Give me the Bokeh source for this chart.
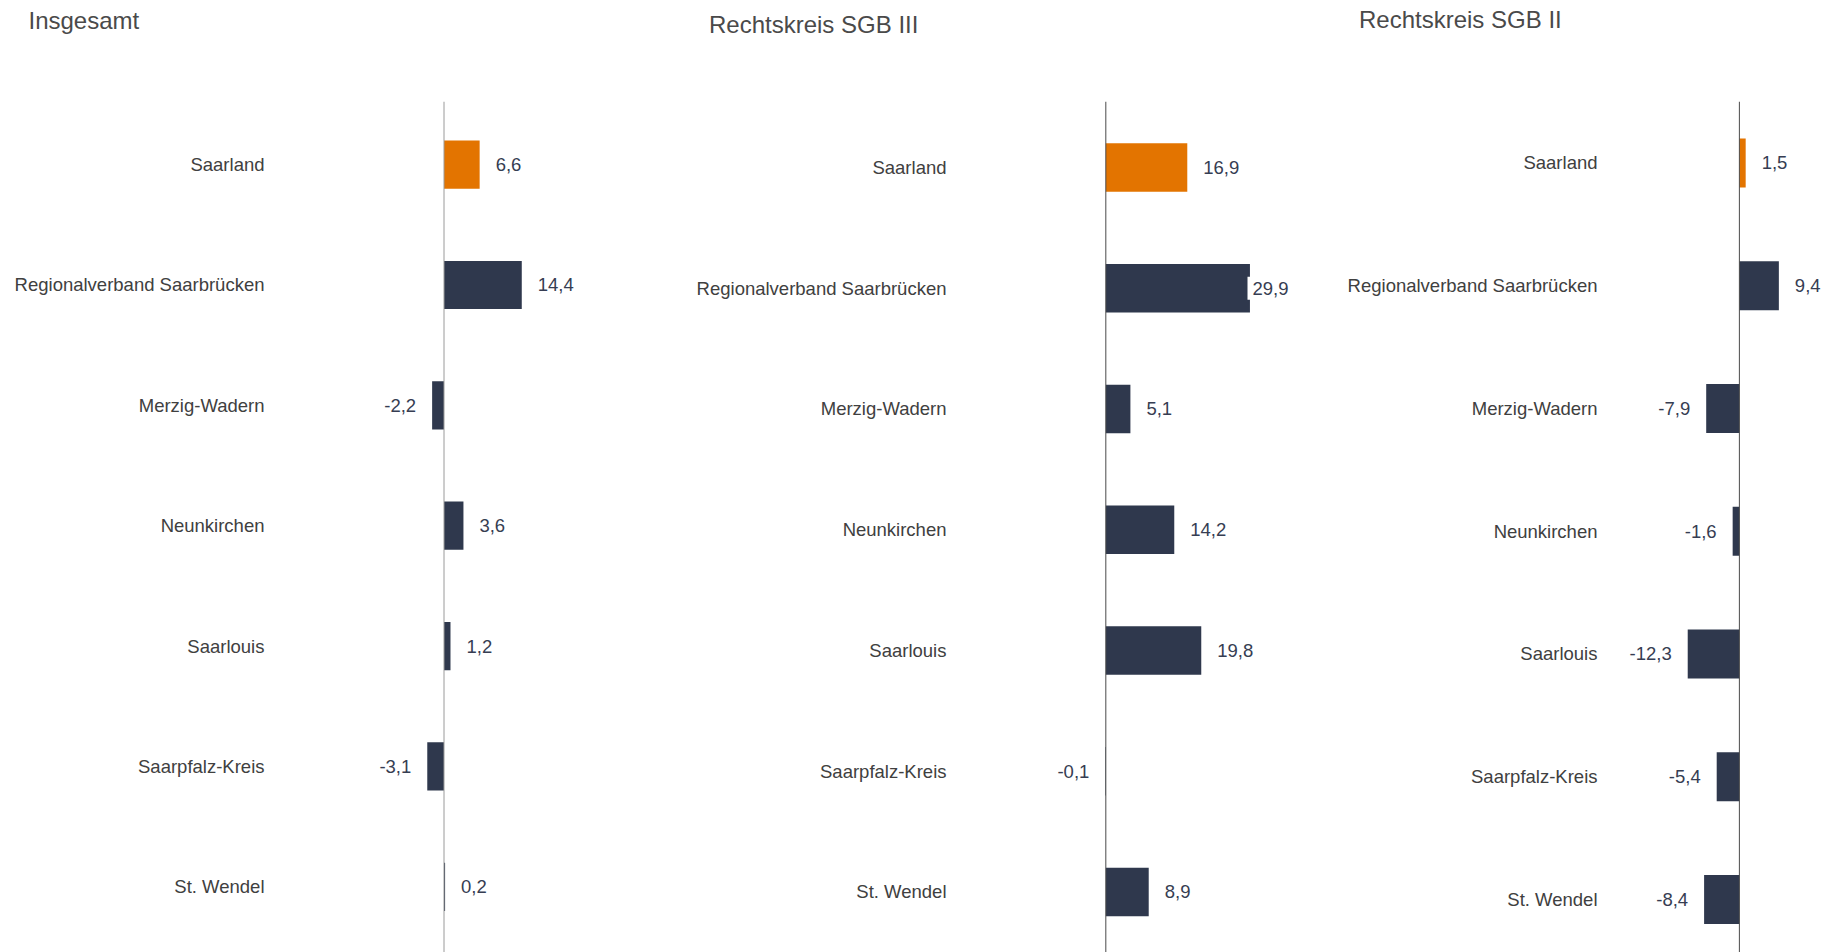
from bokeh.plotting import figure
from bokeh.layouts import row, column
from bokeh.models import Range1d, FixedTicker, Span, Label, ColumnDataSource
from bokeh.core.properties import value
from bokeh.embed import file_html
from bokeh.resources import INLINE

# ---------------- data ----------------
categories = ["Saarland", "Regionalverband Saarbrücken", "Merzig-Wadern",
              "Neunkirchen", "Saarlouis", "Saarpfalz-Kreis", "St. Wendel"]
titles = ["Insgesamt", "Rechtskreis SGB III", "Rechtskreis SGB II"]
insgesamt = [6.6, 14.4, -2.2, 3.6, 1.2, -3.1, 0.2]
sgb3 = [16.9, 29.9, 5.1, 14.2, 19.8, -0.1, 8.9]
sgb2 = [1.5, 9.4, -7.9, -1.6, -12.3, -5.4, -8.4]
series = [insgesamt, sgb3, sgb2]

ORANGE = "#E37400"
NAVY = "#2F384D"
FONT = "Liberation Sans"
LABEL_SIZE = 18.5
PAD = 5          # padding of the value-label background box
GAP = 16         # gap between bar end and value text

# ---------------- layout (pixels) ----------------
PAGE_H = 952
STRIP_H = 50                 # title strip on top
FRAME_TOP = 101              # common frame top (page px)
FRAME_BOTTOM = 952
CHART_H = PAGE_H - STRIP_H
panels = [
    dict(width=690, mbl=274, mbr=0, band_top=103.9, band=120.37, ppu=5.40,
         x0=-31.39, zero_color="#9a9a9a", tx=28, tb=20.3),
    dict(width=651, mbl=266, mbr=49, band_top=106.6, band=120.75, ppu=4.82,
         x0=-30.98, zero_color="#4a4a4a", tx=708.5, tb=24.3),
    dict(width=490, mbl=266, mbr=0, band_top=101.1, band=122.75, ppu=4.20,
         x0=-31.4, zero_color="#4a4a4a", tx=1358.5, tb=18.7),
]


def fmt(v):
    return f"{v:.1f}".replace(".", ",")


def text_w(s):
    w = {",": 0.278, "-": 0.333}
    return sum(w.get(c, 0.556) for c in s) * LABEL_SIZE


# ---------------- title strip ----------------
strip = figure(width=sum(c["width"] for c in panels), height=STRIP_H,
               output_backend="svg", toolbar_location=None,
               x_axis_location=None, y_axis_location=None,
               x_range=Range1d(0, 1), y_range=Range1d(0, 1),
               min_border_left=0, min_border_right=0,
               min_border_top=0, min_border_bottom=0)
strip.outline_line_color = None
strip.grid.visible = False
for title, cfg in zip(titles, panels):
    strip.add_layout(Label(x=cfg["tx"], y=STRIP_H - cfg["tb"],
                           x_units="screen", y_units="screen",
                           text=title, text_font=FONT, text_font_size="24px",
                           text_color="#4a4a4a", text_align="left",
                           text_baseline="alphabetic"))

# ---------------- charts ----------------
figs = []
for vals, cfg in zip(series, panels):
    frame_w = cfg["width"] - cfg["mbl"] - cfg["mbr"]
    x1 = cfg["x0"] + frame_w / cfg["ppu"]
    y_top = -0.5 - (cfg["band_top"] - FRAME_TOP) / cfg["band"]
    y_bottom = -0.5 + (FRAME_BOTTOM - cfg["band_top"]) / cfg["band"]

    p = figure(width=cfg["width"], height=CHART_H, output_backend="svg",
               toolbar_location=None, x_axis_location=None,
               x_range=Range1d(cfg["x0"], x1), y_range=Range1d(y_bottom, y_top),
               min_border_left=cfg["mbl"], min_border_right=cfg["mbr"],
               min_border_top=FRAME_TOP - STRIP_H,
               min_border_bottom=PAGE_H - FRAME_BOTTOM)
    p.outline_line_color = None
    p.grid.visible = False
    p.background_fill_color = "white"
    p.border_fill_color = "white"

    idx = list(range(len(categories)))
    colors = [ORANGE] + [NAVY] * (len(categories) - 1)
    src = ColumnDataSource(dict(y=idx, v=vals, c=colors))
    p.hbar(y="y", left=0, right="v", height=0.4, fill_color="c",
           line_color=None, source=src)

    p.add_layout(Span(location=0, dimension="height",
                      line_color=cfg["zero_color"], line_width=1))

    ax = p.yaxis[0]
    ax.ticker = FixedTicker(ticks=idx)
    ax.major_label_overrides = {i: c for i, c in zip(idx, categories)}
    ax.axis_line_color = None
    ax.major_tick_line_color = None
    ax.minor_tick_line_color = None
    ax.major_tick_out = 0
    ax.major_tick_in = 0
    ax.major_label_standoff = 10
    ax.major_label_text_font = FONT
    ax.major_label_text_font_size = f"{LABEL_SIZE}px"
    ax.major_label_text_color = "#404040"

    # value labels (kept inside the plot area, like the original)
    limit = x1 * cfg["ppu"] - 4          # rightmost allowed text end, px from zero
    pos = dict(y=[], x=[], t=[], off=[])
    neg = dict(y=[], x=[], t=[], off=[])
    for i, v in zip(idx, vals):
        t = fmt(v)
        if v >= 0:
            off = GAP - PAD
            if v * cfg["ppu"] + GAP + text_w(t) > limit:
                off = limit - text_w(t) - PAD - v * cfg["ppu"]
            d = pos
        else:
            off = -(GAP - PAD)
            d = neg
        d["y"].append(i); d["x"].append(v); d["t"].append(t); d["off"].append(off)

    for d, align in ((pos, "left"), (neg, "right")):
        if not d["y"]:
            continue
        p.text(x="x", y="y", text="t", x_offset="off", source=ColumnDataSource(d),
               text_align=align, text_baseline="middle",
               text_font=value(FONT), text_font_size=f"{LABEL_SIZE}px",
               text_color="#363d52", background_fill_color="white",
               padding=PAD)
    figs.append(p)

layout = column(strip, row(*figs))
open("out.html", "w").write(file_html(layout, INLINE))
